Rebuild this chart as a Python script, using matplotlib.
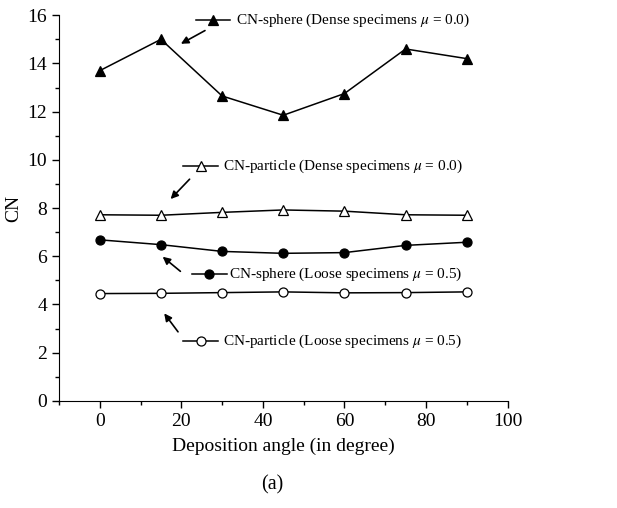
import numpy as np
import matplotlib.pyplot as plt
from matplotlib.lines import Line2D

plt.rcParams['font.family'] = ['Liberation Serif', 'DejaVu Serif']
plt.rcParams['mathtext.fontset'] = 'stix'

angle = [0, 15, 30, 45, 60, 75, 90]
cn_sphere_dense = [13.7, 15.0, 12.65, 11.85, 12.75, 14.6, 14.2]
cn_particle_dense = [7.72, 7.70, 7.82, 7.92, 7.87, 7.72, 7.70]
cn_sphere_loose = [6.68, 6.48, 6.20, 6.12, 6.15, 6.45, 6.58]
cn_particle_loose = [4.45, 4.46, 4.49, 4.52, 4.48, 4.49, 4.52]

labels = ['CN-sphere (Dense specimens $\\mu$ = 0.0)',
          'CN-particle (Dense specimens $\\mu$ = 0.0)',
          'CN-sphere (Loose specimens $\\mu$ = 0.5)',
          'CN-particle (Loose specimens $\\mu$ = 0.5)']

fig = plt.figure(figsize=(6.17, 5.08), dpi=100)
ax = fig.add_axes([0.0956, 0.211, 0.727, 0.759])

series = [(cn_sphere_dense, '^', 'k'), (cn_particle_dense, '^', 'w'),
          (cn_sphere_loose, 'o', 'k'), (cn_particle_loose, 'o', 'w')]
for vals, mk, fc in series:
    ax.plot(angle, vals, color='k', lw=1.1, marker=mk, ms=6.5,
            mfc=fc, mec='k', mew=0.9)

# label sample lines: (sample x0, x1, y, text x), arrow (from, to)
lab_pos = [(23.7, 32.0, 15.8, 33.3), (20.5, 29.1, 9.74, 30.1),
           (22.7, 31.1, 5.26, 31.8), (20.5, 29.1, 2.48, 30.1)]
arrows = [((26.4, 15.42), (19.3, 14.76)), ((22.5, 9.28), (16.9, 8.29)),
          ((20.3, 5.3), (14.9, 6.05)), ((19.6, 2.77), (15.4, 3.72))]
for (vals, mk, fc), (x0, x1, yy, xt), lab, (a, b) in zip(series, lab_pos, labels, arrows):
    ax.add_line(Line2D([x0, x1], [yy, yy], color='k', lw=1.1))
    ax.plot([(x0 + x1) / 2], [yy], marker=mk, ms=6.5, mfc=fc, mec='k', mew=0.9)
    ax.text(xt, yy, lab, fontsize=11, va='center', ha='left')
    ax.annotate('', xy=b, xytext=a,
                arrowprops=dict(arrowstyle='-|>', color='k', lw=1.2, mutation_scale=11))

ax.set_xlim(-10, 100)
ax.set_ylim(0, 16)
ax.set_xticks(np.arange(0, 101, 20))
ax.set_xticks(np.arange(-10, 101, 10), minor=True)
ax.set_yticks(np.arange(0, 17, 2))
ax.set_yticks(np.arange(0, 17, 1), minor=True)
ax.spines['top'].set_visible(False)
ax.spines['right'].set_visible(False)
ax.tick_params(axis='both', which='major', labelsize=14, length=5, width=1, direction='out')
ax.tick_params(axis='both', which='minor', length=3, width=1, direction='out')
ax.set_xlabel('Deposition angle (in degree)', fontsize=14, labelpad=6)
ax.set_ylabel('CN', fontsize=14, labelpad=4)
fig.text(0.441, 0.045, '(a)', fontsize=14.5, ha='center', va='center')

fig.savefig('out.png', dpi=100)
